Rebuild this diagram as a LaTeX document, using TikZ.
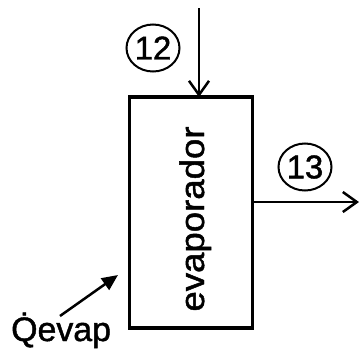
\documentclass[tikz,border=0pt]{standalone}
\usepackage{fontspec}
\setmainfont[FakeBold=1.3]{Liberation Sans}
\usetikzlibrary{arrows.meta,shapes.geometric}
\begin{document}
\begin{tikzpicture}[x=1bp,y=-1bp,
  lbl/.style={font=\fontsize{34}{38}\selectfont, inner sep=0pt},
  numcirc/.style={draw, ellipse, line width=2bp, minimum width=53bp, minimum height=47bp, inner sep=0pt, font=\fontsize{33}{36}\selectfont},
  flow/.style={line width=2.5bp, -{Straight Barb[length=14bp, width=20bp, line width=2.5bp]}},
  heat/.style={line width=2.5bp, -{Triangle[length=16bp, width=14bp]}},
  unit/.style={draw, line width=3.5bp, minimum width=123bp, minimum height=231bp, inner sep=0pt}]
\useasboundingbox (0,0) rectangle (361,352);
\node[unit] (evap) at (191,212.5) {};
\node[lbl, rotate=90, anchor=base] (evt) at (204,219) {\scalebox{1.08}[1]{evaporador}};
\coordinate (in) at (199,8);
\draw[flow] (in) -- (199,97);
\node[numcirc] (c12) at (153,48) {12};
\coordinate (out) at (359,202);
\draw[flow] (evap.east |- out) -- (out);
\node[numcirc] (c13) at (305,167) {13};
\node[lbl, anchor=base west] (q) at (11,341) {\.{Q}evap};
\coordinate (qs) at (60,316);
\coordinate (qe) at (118,275);
\draw[heat] (qs) -- (qe);
\end{tikzpicture}
\end{document}
